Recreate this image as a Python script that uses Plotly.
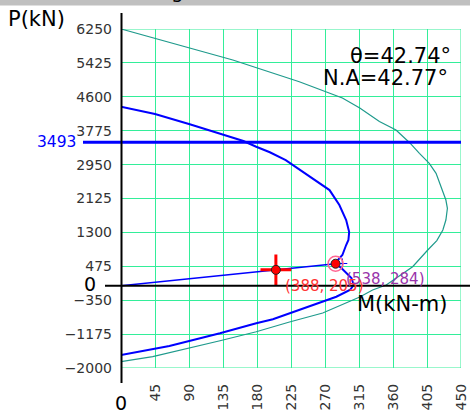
import plotly.graph_objects as go

# ---------------- data ----------------
# Nominal interaction curve (teal)
M_nominal = [0, 148, 236, 265, 293, 316, 342, 364, 382, 395, 408, 417, 424, 430, 432,
             430, 426, 418, 406, 386, 351, 333, 316, 289, 267, 223, 179, 131, 42, 0]
P_nominal = [6250, 5496, 4967, 4765, 4570, 4330, 4001, 3792, 3483, 3225, 2981, 2738, 2412, 2088, 1886,
             1601, 1358, 1100, 871, 465, 19, -102, -273, -492, -662, -881, -1117, -1336, -1725, -1847]

# Design interaction curve (blue)
M_design = [0, 45, 91, 135, 162, 179, 197, 218, 236, 258, 276, 289, 298, 302, 301, 298, 293,
            287, 284, 292, 305, 308, 303, 285, 254, 223, 201, 179, 131, 64, 0]
P_design = [4360, 4180, 3930, 3690, 3525, 3385, 3250, 3060, 2828, 2550, 2330, 1966, 1600, 1310, 1115, 993, 750,
            628, 538, 426, 190, 19, -102, -265, -467, -669, -815, -913, -1156, -1465, -1684]

P_max = 3493                 # max design axial load
P_cap, M_cap = 538, 284      # capacity point on load line
P_app, M_app = 388, 205      # applied load point
P_mark, M_mark = 543, 293    # small design marker beside capacity point
theta = 42.74
na_angle = 42.77

x_ticks = [45, 90, 135, 180, 225, 270, 315, 360, 405, 450]
x_ticklabels = [str(v) for v in x_ticks]
y_ticks = [-2000, -1175, -350, 475, 1300, 2125, 2950, 3775, 4600, 5425, 6250]
y_ticklabels = [("\u2212" + str(-v)) if v < 0 else str(v) for v in y_ticks]

# ---------------- layout helpers ----------------
W, H = 470, 413
L, R, T, B = 121, 9, 29, 45
PW, PH = W - L - R, H - T - B
def px(x):
    return (x - L) / PW
def py(y):
    return (H - B - y) / PH

FONT = "DejaVu Sans"
GRID = "#33EE99"

fig = go.Figure()

fig.add_trace(go.Scatter(x=M_nominal, y=P_nominal, mode="lines",
                         line=dict(color="#1f9a8c", width=1.2), hoverinfo="skip"))
fig.add_trace(go.Scatter(x=M_design, y=P_design, mode="lines",
                         line=dict(color="#0000ff", width=2), hoverinfo="skip"))
# load line from origin
fig.add_trace(go.Scatter(x=[0, M_cap], y=[0, P_cap], mode="lines",
                         line=dict(color="#0000ff", width=1.5), hoverinfo="skip"))
# small blue marker
fig.add_trace(go.Scatter(x=[M_mark], y=[P_mark], mode="markers",
                         marker=dict(symbol="cross-thin", size=7, line=dict(color="#0000ff", width=1.2)),
                         hoverinfo="skip"))
# applied load crosshair
fig.add_trace(go.Scatter(x=[M_app], y=[P_app], mode="markers",
                         marker=dict(symbol="cross-thin", size=22, line=dict(color="#ff0000", width=3)),
                         hoverinfo="skip"))
fig.add_trace(go.Scatter(x=[M_app], y=[P_app], mode="markers",
                         marker=dict(symbol="circle", size=9, color="#ff0000", line=dict(color="#222222", width=1)),
                         hoverinfo="skip"))
# capacity point
fig.add_trace(go.Scatter(x=[M_cap], y=[P_cap], mode="markers",
                         marker=dict(symbol="circle-open", size=15, line=dict(color="#9933aa", width=1.5)),
                         hoverinfo="skip"))
fig.add_trace(go.Scatter(x=[M_cap], y=[P_cap], mode="markers",
                         marker=dict(symbol="circle", size=9, color="#ff0000", line=dict(color="#222222", width=1)),
                         hoverinfo="skip"))

shapes = [
    # grid frame
    dict(type="rect", xref="x", yref="y", x0=0, x1=450, y0=-2000, y1=6250,
         line=dict(color=GRID, width=1), layer="below"),
    # max axial line
    dict(type="line", xref="paper", yref="y", x0=px(83), x1=px(461), y0=P_max, y1=P_max,
         line=dict(color="#0000ff", width=3)),
    # P = 0 axis
    dict(type="line", xref="paper", yref="y", x0=px(105), x1=px(471), y0=0, y1=0,
         line=dict(color="#000000", width=2)),
    # M = 0 axis
    dict(type="line", xref="paper", yref="paper", x0=px(121.5), x1=px(121.5), y0=py(383), y1=py(13),
         line=dict(color="#000000", width=2)),
    # title strip
    dict(type="rect", xref="paper", yref="paper", x0=px(-5), x1=px(480), y0=py(5.5), y1=py(-10),
         fillcolor="#c0c0c0", line=dict(width=0)),
]

annotations = [
    dict(text="g", xref="paper", yref="paper", x=px(177), y=py(5), xanchor="center", yanchor="bottom",
         font=dict(family=FONT, size=20, color="#000000"), showarrow=False),
    dict(text="P(kN)", xref="paper", yref="paper", x=px(6), y=py(19), xanchor="left", yanchor="middle",
         font=dict(family=FONT, size=21, color="#000000"), showarrow=False),
    dict(text="M(kN-m)", xref="paper", yref="paper", x=px(355), y=py(304), xanchor="left", yanchor="middle",
         font=dict(family=FONT, size=21, color="#000000"), showarrow=False),
    dict(text=f"\u03b8={theta:.2f}\u00b0", xref="paper", yref="paper", x=px(348), y=py(56), xanchor="left", yanchor="middle",
         font=dict(family=FONT, size=21, color="#000000"), showarrow=False),
    dict(text=f"N.A={na_angle:.2f}\u00b0", xref="paper", yref="paper", x=px(321), y=py(78), xanchor="left", yanchor="middle",
         font=dict(family=FONT, size=21, color="#000000"), showarrow=False),
    dict(text="0", xref="paper", yref="paper", x=px(90), y=py(284), xanchor="center", yanchor="middle",
         font=dict(family=FONT, size=19, color="#000000"), showarrow=False),
    dict(text="0", xref="paper", yref="paper", x=px(121), y=py(403), xanchor="center", yanchor="middle",
         font=dict(family=FONT, size=19, color="#000000"), showarrow=False),
    dict(text=str(P_max), xref="paper", yref="y", x=px(78), y=P_max, xanchor="right", yanchor="middle",
         font=dict(family=FONT, size=15.5, color="#0000ff"), showarrow=False),
    dict(text=f"({P_app}, {M_app})", xref="x", yref="y", x=M_app, y=P_app, xanchor="left", yanchor="middle",
         xshift=7, yshift=-16, font=dict(family=FONT, size=15, color="#ff3333"), showarrow=False),
    dict(text=f"({P_cap}, {M_cap})", xref="x", yref="y", x=M_cap, y=P_cap, xanchor="left", yanchor="middle",
         xshift=8, yshift=-15, font=dict(family=FONT, size=15, color="#9933aa"), showarrow=False),
]

fig.update_layout(
    width=W, height=H,
    margin=dict(l=L, r=R, t=T, b=B, pad=0, autoexpand=False),
    paper_bgcolor="#ffffff", plot_bgcolor="#ffffff",
    showlegend=False,
    shapes=shapes, annotations=annotations,
    font=dict(family=FONT, size=14, color="#333333"),
)
fig.update_xaxes(range=[0, 450], tickmode="array", tickvals=x_ticks, ticktext=x_ticklabels,
                 tickangle=-90, showgrid=True, gridcolor=GRID, gridwidth=1, zeroline=False,
                 showline=False, ticks="", ticklabelstandoff=12, automargin=False,
                 tickfont=dict(family=FONT, size=14, color="#333333"))
fig.update_yaxes(range=[-2000, 6250], tickmode="array", tickvals=y_ticks, ticktext=y_ticklabels,
                 showgrid=True, gridcolor=GRID, gridwidth=1, zeroline=False,
                 showline=False, ticks="", ticklabelstandoff=8, automargin=False,
                 tickfont=dict(family=FONT, size=14, color="#333333"))

fig.write_html("out.html", config={"displayModeBar": False},
               post_script="document.body.style.margin='0';document.body.style.overflow='hidden';")
